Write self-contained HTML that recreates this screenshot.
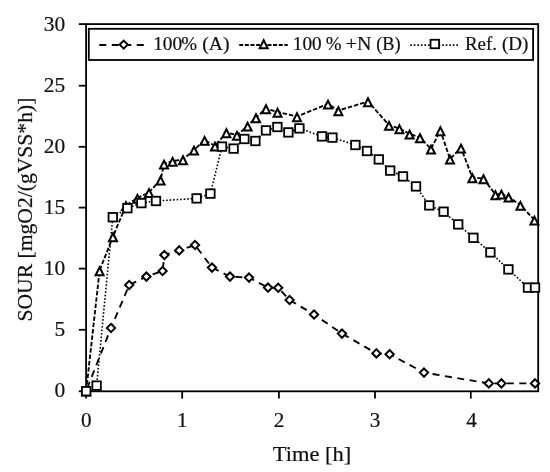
<!DOCTYPE html>
<html><head><meta charset="utf-8"><title>SOUR chart</title>
<style>
html,body{margin:0;padding:0;background:#fff;}
svg{display:block;will-change:transform;}
text{font-family:"Liberation Serif",serif;fill:#111;stroke:#111;stroke-width:0.2px;}
</style></head><body>
<svg width="550" height="472" viewBox="0 0 550 472">
<rect width="550" height="472" fill="#fff"/>
<g fill="none" stroke="#000" stroke-width="1.8">
<rect x="86.1" y="24.1" width="452.1" height="367.2"/>

<path d="M78.8 391.3H86.1"/>
<path d="M78.8 329.8H86.1"/>
<path d="M78.8 268.6H86.1"/>
<path d="M78.8 207.6H86.1"/>
<path d="M78.8 146.8H86.1"/>
<path d="M78.8 85.7H86.1"/>
<path d="M78.8 24.1H86.1"/>
<path d="M86.1 391.3V398.6"/>
<path d="M182.2 391.3V398.6"/>
<path d="M278.9 391.3V398.6"/>
<path d="M375.0 391.3V398.6"/>
<path d="M470.8 391.3V398.6"/>
</g>
<g fill="none" stroke="#000" stroke-width="1.85">
<polyline points="86.2,390.8 111.0,328.0 129.2,285.0 146.4,276.6 162.6,271.0 164.4,255.0 179.2,250.4 195.0,245.0 212.0,267.6 230.0,276.6 249.0,277.6 268.0,287.6 278.2,287.8 289.6,300.0 314.0,314.5 342.0,333.6 376.4,353.4 389.6,354.2 424.0,372.6 488.8,383.4 501.4,383.4 535.0,383.4" stroke-dasharray="7 5.5" stroke-dashoffset="-2.5"/>
<polyline points="86.2,390.8 99.6,270.5 113.0,236.5 126.0,205.4 137.4,198.1 149.0,192.3 160.6,179.9 164.0,163.9 172.6,161.1 183.0,159.5 194.0,149.9 204.6,140.1 215.0,145.9 226.4,132.5 237.0,135.1 247.6,125.9 256.0,117.5 266.0,108.5 277.5,112.0 297.0,116.5 328.0,103.9 338.4,110.5 368.0,101.5 389.0,125.1 399.4,128.5 409.6,133.9 420.0,137.5 431.0,148.9 440.4,130.5 450.0,158.9 461.0,147.9 472.4,177.5 483.5,178.5 495.4,194.5 501.4,193.9 508.6,196.9 520.4,205.1 534.4,219.9" stroke-dasharray="4.5 1.9"/>
<polyline points="86.2,391.2 96.6,385.6 112.8,217.2 127.4,208.2 141.4,203.1 156.0,201.0 196.6,198.4 210.4,193.6 222.0,146.6 233.6,148.6 244.4,139.0 255.4,141.0 266.0,130.4 277.4,127.0 288.4,132.4 299.4,128.4 322.0,136.4 332.4,137.6 355.4,145.0 367.0,151.0 378.8,159.4 390.2,170.6 403.0,176.4 416.0,186.4 429.3,205.4 443.6,211.7 458.2,224.4 473.4,237.8 490.4,252.4 508.4,269.4 528.0,287.6 535.0,287.6" stroke-dasharray="1.6 1.9" stroke-width="1.6"/>
</g>
<g fill="#fff" stroke="#000" stroke-width="2.0" stroke-linejoin="miter">
<path d="M86.2 386.65L90.35 390.8L86.2 394.95L82.05 390.8Z"/>
<path d="M111.0 323.85L115.15 328.0L111.0 332.15L106.85 328.0Z"/>
<path d="M129.2 280.85L133.35 285.0L129.2 289.15L125.05 285.0Z"/>
<path d="M146.4 272.45L150.55 276.6L146.4 280.75L142.25 276.6Z"/>
<path d="M162.6 266.85L166.75 271.0L162.6 275.15L158.45 271.0Z"/>
<path d="M164.4 250.85L168.55 255.0L164.4 259.15L160.25 255.0Z"/>
<path d="M179.2 246.25L183.35 250.4L179.2 254.55L175.05 250.4Z"/>
<path d="M195.0 240.85L199.15 245.0L195.0 249.15L190.85 245.0Z"/>
<path d="M212.0 263.45L216.15 267.6L212.0 271.75L207.85 267.6Z"/>
<path d="M230.0 272.45L234.15 276.6L230.0 280.75L225.85 276.6Z"/>
<path d="M249.0 273.45L253.15 277.6L249.0 281.75L244.85 277.6Z"/>
<path d="M268.0 283.45L272.15 287.6L268.0 291.75L263.85 287.6Z"/>
<path d="M278.2 283.65L282.35 287.8L278.2 291.95L274.05 287.8Z"/>
<path d="M289.6 295.85L293.75 300.0L289.6 304.15L285.45 300.0Z"/>
<path d="M314.0 310.35L318.15 314.5L314.0 318.65L309.85 314.5Z"/>
<path d="M342.0 329.45L346.15 333.6L342.0 337.75L337.85 333.6Z"/>
<path d="M376.4 349.25L380.55 353.4L376.4 357.55L372.25 353.4Z"/>
<path d="M389.6 350.05L393.75 354.2L389.6 358.35L385.45 354.2Z"/>
<path d="M424.0 368.45L428.15 372.6L424.0 376.75L419.85 372.6Z"/>
<path d="M488.8 379.25L492.95 383.4L488.8 387.55L484.65 383.4Z"/>
<path d="M501.4 379.25L505.55 383.4L501.4 387.55L497.25 383.4Z"/>
<path d="M535.0 379.25L539.15 383.4L535.0 387.55L530.85 383.4Z"/>
<path d="M86.2 387.60L90.20 395.50L82.20 395.50Z"/>
<path d="M99.6 267.30L103.60 275.20L95.60 275.20Z"/>
<path d="M113.0 233.30L117.00 241.20L109.00 241.20Z"/>
<path d="M126.0 202.20L130.00 210.10L122.00 210.10Z"/>
<path d="M137.4 194.90L141.40 202.80L133.40 202.80Z"/>
<path d="M149.0 189.10L153.00 197.00L145.00 197.00Z"/>
<path d="M160.6 176.70L164.60 184.60L156.60 184.60Z"/>
<path d="M164.0 160.70L168.00 168.60L160.00 168.60Z"/>
<path d="M172.6 157.90L176.60 165.80L168.60 165.80Z"/>
<path d="M183.0 156.30L187.00 164.20L179.00 164.20Z"/>
<path d="M194.0 146.70L198.00 154.60L190.00 154.60Z"/>
<path d="M204.6 136.90L208.60 144.80L200.60 144.80Z"/>
<path d="M215.0 142.70L219.00 150.60L211.00 150.60Z"/>
<path d="M226.4 129.30L230.40 137.20L222.40 137.20Z"/>
<path d="M237.0 131.90L241.00 139.80L233.00 139.80Z"/>
<path d="M247.6 122.70L251.60 130.60L243.60 130.60Z"/>
<path d="M256.0 114.30L260.00 122.20L252.00 122.20Z"/>
<path d="M266.0 105.30L270.00 113.20L262.00 113.20Z"/>
<path d="M277.5 108.80L281.50 116.70L273.50 116.70Z"/>
<path d="M297.0 113.30L301.00 121.20L293.00 121.20Z"/>
<path d="M328.0 100.70L332.00 108.60L324.00 108.60Z"/>
<path d="M338.4 107.30L342.40 115.20L334.40 115.20Z"/>
<path d="M368.0 98.30L372.00 106.20L364.00 106.20Z"/>
<path d="M389.0 121.90L393.00 129.80L385.00 129.80Z"/>
<path d="M399.4 125.30L403.40 133.20L395.40 133.20Z"/>
<path d="M409.6 130.70L413.60 138.60L405.60 138.60Z"/>
<path d="M420.0 134.30L424.00 142.20L416.00 142.20Z"/>
<path d="M431.0 145.70L435.00 153.60L427.00 153.60Z"/>
<path d="M440.4 127.30L444.40 135.20L436.40 135.20Z"/>
<path d="M450.0 155.70L454.00 163.60L446.00 163.60Z"/>
<path d="M461.0 144.70L465.00 152.60L457.00 152.60Z"/>
<path d="M472.4 174.30L476.40 182.20L468.40 182.20Z"/>
<path d="M483.5 175.30L487.50 183.20L479.50 183.20Z"/>
<path d="M495.4 191.30L499.40 199.20L491.40 199.20Z"/>
<path d="M501.4 190.70L505.40 198.60L497.40 198.60Z"/>
<path d="M508.6 193.70L512.60 201.60L504.60 201.60Z"/>
<path d="M520.4 201.90L524.40 209.80L516.40 209.80Z"/>
<path d="M534.4 216.70L538.40 224.60L530.40 224.60Z"/>
<rect x="81.95" y="386.95" width="8.5" height="8.5" stroke-width="1.8"/>
<rect x="92.35" y="381.35" width="8.5" height="8.5" stroke-width="1.8"/>
<rect x="108.55" y="212.95" width="8.5" height="8.5" stroke-width="1.8"/>
<rect x="123.15" y="203.95" width="8.5" height="8.5" stroke-width="1.8"/>
<rect x="137.15" y="198.85" width="8.5" height="8.5" stroke-width="1.8"/>
<rect x="151.75" y="196.75" width="8.5" height="8.5" stroke-width="1.8"/>
<rect x="192.35" y="194.15" width="8.5" height="8.5" stroke-width="1.8"/>
<rect x="206.15" y="189.35" width="8.5" height="8.5" stroke-width="1.8"/>
<rect x="217.75" y="142.35" width="8.5" height="8.5" stroke-width="1.8"/>
<rect x="229.35" y="144.35" width="8.5" height="8.5" stroke-width="1.8"/>
<rect x="240.15" y="134.75" width="8.5" height="8.5" stroke-width="1.8"/>
<rect x="251.15" y="136.75" width="8.5" height="8.5" stroke-width="1.8"/>
<rect x="261.75" y="126.15" width="8.5" height="8.5" stroke-width="1.8"/>
<rect x="273.15" y="122.75" width="8.5" height="8.5" stroke-width="1.8"/>
<rect x="284.15" y="128.15" width="8.5" height="8.5" stroke-width="1.8"/>
<rect x="295.15" y="124.15" width="8.5" height="8.5" stroke-width="1.8"/>
<rect x="317.75" y="132.15" width="8.5" height="8.5" stroke-width="1.8"/>
<rect x="328.15" y="133.35" width="8.5" height="8.5" stroke-width="1.8"/>
<rect x="351.15" y="140.75" width="8.5" height="8.5" stroke-width="1.8"/>
<rect x="362.75" y="146.75" width="8.5" height="8.5" stroke-width="1.8"/>
<rect x="374.55" y="155.15" width="8.5" height="8.5" stroke-width="1.8"/>
<rect x="385.95" y="166.35" width="8.5" height="8.5" stroke-width="1.8"/>
<rect x="398.75" y="172.15" width="8.5" height="8.5" stroke-width="1.8"/>
<rect x="411.75" y="182.15" width="8.5" height="8.5" stroke-width="1.8"/>
<rect x="425.05" y="201.15" width="8.5" height="8.5" stroke-width="1.8"/>
<rect x="439.35" y="207.45" width="8.5" height="8.5" stroke-width="1.8"/>
<rect x="453.95" y="220.15" width="8.5" height="8.5" stroke-width="1.8"/>
<rect x="469.15" y="233.55" width="8.5" height="8.5" stroke-width="1.8"/>
<rect x="486.15" y="248.15" width="8.5" height="8.5" stroke-width="1.8"/>
<rect x="504.15" y="265.15" width="8.5" height="8.5" stroke-width="1.8"/>
<rect x="523.75" y="283.35" width="8.5" height="8.5" stroke-width="1.8"/>
<rect x="530.75" y="283.35" width="8.5" height="8.5" stroke-width="1.8"/>
</g>
<rect x="88.8" y="28.8" width="444.3" height="31.2" fill="#fff" stroke="#000" stroke-width="1.8"/>
<g fill="none" stroke="#000" stroke-width="1.85">
<path d="M99.3 45H144" stroke-dasharray="7 5.5"/>
<path d="M239.2 45H287.8" stroke-dasharray="4 1.65"/>
<path d="M410.2 45.1H459.2" stroke-dasharray="1.6 1.95" stroke-width="1.6"/>
</g>
<g fill="#fff" stroke="#000" stroke-width="2.0">
<path d="M123.7 40.60L127.70 44.6L123.7 48.60L119.70 44.6Z"/>
<path d="M263.7 40.30L267.70 48.20L259.70 48.20Z"/>
<rect x="430.55" y="39.75" width="8.5" height="8.5" stroke-width="1.8"/>
</g>
<g font-size="20px">
<text x="153.16" y="50.1" font-size="19px" textLength="29.02" lengthAdjust="spacingAndGlyphs">100</text>
<text x="181.34" y="50.1" font-size="19px" textLength="15.79" lengthAdjust="spacingAndGlyphs">%</text>
<text x="202.31" y="50.1" font-size="19px" textLength="27.34" lengthAdjust="spacingAndGlyphs">(A)</text>
<text x="292.87" y="50.1" font-size="19px" textLength="28.80" lengthAdjust="spacingAndGlyphs">100</text>
<text x="325.84" y="50.1" font-size="19px" textLength="15.79" lengthAdjust="spacingAndGlyphs">%</text>
<text x="345.80" y="50.1" font-size="19px" textLength="25.62" lengthAdjust="spacingAndGlyphs">+N</text>
<text x="376.18" y="50.1" font-size="19px" textLength="24.41" lengthAdjust="spacingAndGlyphs">(B)</text>
<text x="464.93" y="50.1" font-size="19px" textLength="32.08" lengthAdjust="spacingAndGlyphs">Ref.</text>
<text x="501.94" y="50.1" font-size="19px" textLength="26.38" lengthAdjust="spacingAndGlyphs">(D)</text>
<text x="54.5" y="397.1" font-size="21px" textLength="10.7" lengthAdjust="spacingAndGlyphs">0</text>
<text x="54.5" y="336.0" font-size="21px" textLength="10.7" lengthAdjust="spacingAndGlyphs">5</text>
<text x="43.8" y="274.9" font-size="21px" textLength="21.4" lengthAdjust="spacingAndGlyphs">10</text>
<text x="43.8" y="213.8" font-size="21px" textLength="21.4" lengthAdjust="spacingAndGlyphs">15</text>
<text x="43.8" y="152.7" font-size="21px" textLength="21.4" lengthAdjust="spacingAndGlyphs">20</text>
<text x="43.8" y="91.6" font-size="21px" textLength="21.4" lengthAdjust="spacingAndGlyphs">25</text>
<text x="43.8" y="30.5" font-size="21px" textLength="21.4" lengthAdjust="spacingAndGlyphs">30</text>
<text x="80.9" y="427.1" font-size="20px" textLength="10.6" lengthAdjust="spacingAndGlyphs">0</text>
<text x="177.0" y="427.1" font-size="20px" textLength="10.6" lengthAdjust="spacingAndGlyphs">1</text>
<text x="273.7" y="427.1" font-size="20px" textLength="10.6" lengthAdjust="spacingAndGlyphs">2</text>
<text x="369.8" y="427.1" font-size="20px" textLength="10.6" lengthAdjust="spacingAndGlyphs">3</text>
<text x="466.2" y="427.1" font-size="20px" textLength="10.6" lengthAdjust="spacingAndGlyphs">4</text>
</g>
<text x="272.8" y="461" font-size="20.5px" textLength="78.4" lengthAdjust="spacingAndGlyphs">Time [h]</text>
<text transform="translate(31.6 321.6) rotate(-90)" font-size="20px" textLength="224" lengthAdjust="spacingAndGlyphs">SOUR [mgO2/(gVSS*h)]</text>
</svg></body></html>
